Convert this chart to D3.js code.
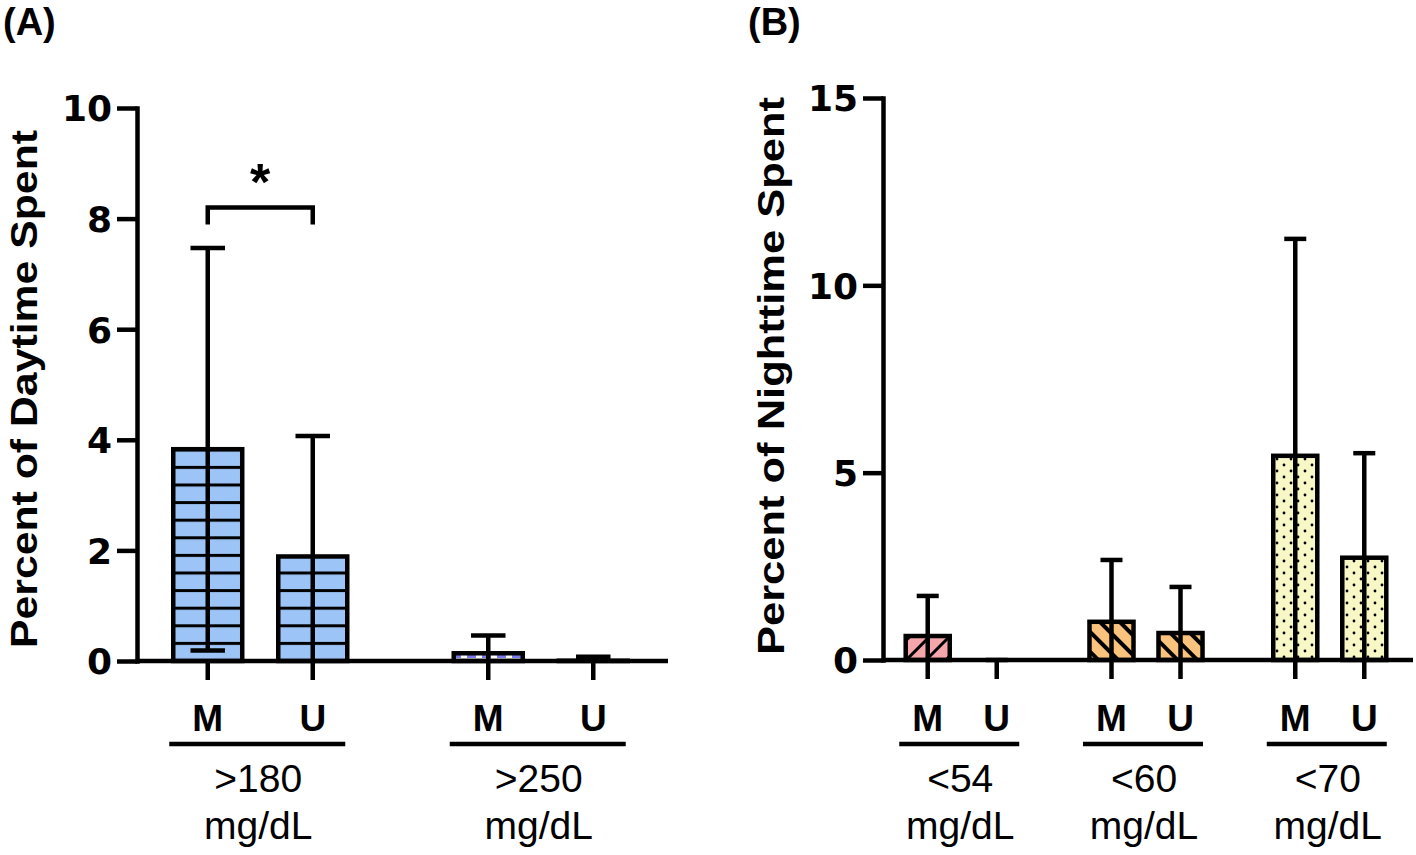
<!DOCTYPE html>
<html>
<head>
<meta charset="utf-8">
<script src="https://cdn.jsdelivr.net/npm/d3@7"></script>
<style>
  body { margin: 0; background: #fff; }
  svg { display: block; font-family: 'Liberation Sans', Arial, sans-serif; }
</style>
</head>
<body>
<div class="canvas"></div>
<script>
//? DATA
const subgroups = ['M', 'U']

const groupsA = ['>180', '>250']
const meanA_M = [3.83, 0.14]
const sdA_M = [3.64, 0.32]
const meanA_U = [1.89, 0.005]
const sdA_U = [2.18, 0.07]
const ticksA = [0, 2, 4, 6, 8, 10]

const groupsB = ['<54', '<60', '<70']
const meanB_M = [0.64, 1.02, 5.45]
const sdB_M = [1.07, 1.65, 5.79]
const meanB_U = [0, 0.72, 2.73]
const sdB_U = [0, 1.23, 2.79]
const ticksB = [0, 5, 10, 15]

const unitLabel = 'mg/dL'

const svg = d3
  .select('.canvas')
  .append('svg')
  .attr('width', 1416)
  .attr('height', 855)

const defs = svg.append('defs')

//* ========== FILL PATTERNS =============
const baseA = 661
const baseB = 660

// blue with horizontal lines
const pHoriz = defs.append('pattern')
  .attr('id', 'horiz')
  .attr('patternUnits', 'userSpaceOnUse')
  .attr('x', 0).attr('y', baseA - 17.6 - 1.5)
  .attr('width', 20).attr('height', 17.6)
pHoriz.append('rect').attr('width', 20).attr('height', 17.6).attr('fill', '#9dc4f6')
pHoriz.append('rect').attr('width', 20).attr('height', 3).attr('fill', '#000')

// purple dashes
const pDash = defs.append('pattern')
  .attr('id', 'dash')
  .attr('patternUnits', 'userSpaceOnUse')
  .attr('x', 2).attr('y', baseA - 6)
  .attr('width', 15).attr('height', 20)
pDash.append('rect').attr('width', 15).attr('height', 20).attr('fill', '#fff')
pDash.append('rect').attr('width', 9).attr('height', 3).attr('fill', '#7b7bf2')

// pink with "/" hatch
const pSlash = defs.append('pattern')
  .attr('id', 'slash')
  .attr('patternUnits', 'userSpaceOnUse')
  .attr('width', 14).attr('height', 14)
  .attr('patternTransform', 'rotate(45)')
pSlash.append('rect').attr('width', 14).attr('height', 14).attr('fill', '#f5a6aa')
pSlash.append('rect').attr('width', 3).attr('height', 14).attr('fill', '#000')

// orange with "\" hatch
const pBack = defs.append('pattern')
  .attr('id', 'back')
  .attr('patternUnits', 'userSpaceOnUse')
  .attr('width', 14).attr('height', 14)
  .attr('patternTransform', 'rotate(-45)')
pBack.append('rect').attr('width', 14).attr('height', 14).attr('fill', '#f9c37e')
pBack.append('rect').attr('width', 4).attr('height', 14).attr('fill', '#000')

// pale yellow with dots
const pDots = defs.append('pattern')
  .attr('id', 'dots')
  .attr('patternUnits', 'userSpaceOnUse')
  .attr('width', 14).attr('height', 12)
pDots.append('rect').attr('width', 14).attr('height', 12).attr('fill', '#f8f8c6')
pDots.append('circle').attr('cx', 3).attr('cy', 3).attr('r', 1.4).attr('fill', '#000')
pDots.append('circle').attr('cx', 10).attr('cy', 9).attr('r', 1.4).attr('fill', '#000')

//* ========== PANEL DRAWING =============
const font = "'Liberation Sans', Arial, sans-serif"
const wideFont = "'DejaVu Sans', Verdana, sans-serif"

const drawPanel = cfg => {
  const g = svg.append('g')

  const y = d3.scaleLinear().domain(cfg.yDomain).range([cfg.base, cfg.top])

  const x = d3.scaleBand()
    .domain(cfg.groups)
    .range(cfg.xRange)
    .paddingInner(cfg.pi)
    .paddingOuter(cfg.po)

  const xSub = d3.scaleBand()
    .domain(subgroups)
    .range([0, x.bandwidth()])
    .paddingInner(cfg.spi)
    .paddingOuter(cfg.spo)

  const rows = []
  cfg.groups.forEach((grp, i) => {
    rows.push({ grp, sub: 'M', mean: cfg.meanM[i], sd: cfg.sdM[i], fill: cfg.fills[i] })
    rows.push({ grp, sub: 'U', mean: cfg.meanU[i], sd: cfg.sdU[i], fill: cfg.fills[i] })
  })
  const cx = d => x(d.grp) + xSub(d.sub) + xSub.bandwidth() / 2
  const bw = xSub.bandwidth()
  const capW = bw / 2

  //? bars
  g.selectAll('rect.bar')
    .data(rows.filter(d => d.mean > 0))
    .join('rect')
    .attr('class', 'bar')
    .attr('x', d => cx(d) - bw / 2)
    .attr('y', d => y(d.mean))
    .attr('width', bw)
    .attr('height', d => y(0) - y(d.mean))
    .attr('fill', d => `url(#${d.fill})`)
    .attr('stroke', '#000')
    .attr('stroke-width', 4.5)

  //? error bars (line from clipped lower to upper, caps)
  const err = g.selectAll('g.err')
    .data(rows)
    .join('g')
    .attr('class', 'err')
  err.append('line')
    .attr('x1', cx).attr('x2', cx)
    .attr('y1', d => y(Math.max(0, d.mean - d.sd)))
    .attr('y2', d => y(d.mean + d.sd))
    .attr('stroke', '#000')
    .attr('stroke-width', 4.5)
  err.append('line')
    .attr('x1', d => cx(d) - capW / 2).attr('x2', d => cx(d) + capW / 2)
    .attr('y1', d => y(d.mean + d.sd)).attr('y2', d => y(d.mean + d.sd))
    .attr('stroke', '#000')
    .attr('stroke-width', 4.5)
  err.filter(d => d.mean - d.sd > 0)
    .append('line')
    .attr('x1', d => cx(d) - capW / 2).attr('x2', d => cx(d) + capW / 2)
    .attr('y1', d => y(d.mean - d.sd)).attr('y2', d => y(d.mean - d.sd))
    .attr('stroke', '#000')
    .attr('stroke-width', 4.5)

  //? y axis
  const yAxis = d3.axisLeft(y)
    .tickValues(cfg.ticks)
    .tickSize(20)
    .tickSizeOuter(0)
    .tickPadding(5)
  const ya = g.append('g')
    .attr('transform', `translate(${cfg.axisX}, 0)`)
    .call(yAxis)
  ya.select('.domain').attr('stroke-width', 4.5).attr('stroke-linecap', 'square')
  ya.selectAll('.tick line').attr('stroke-width', 4.5)
  ya.selectAll('.tick text')
    .attr('font-family', wideFont)
    .attr('font-size', 36)
    .attr('font-weight', 'bold')
    .attr('fill', '#000')
    .attr('dy', '0.36em')

  //? x axis baseline and ticks
  g.append('line')
    .attr('x1', cfg.axisX).attr('x2', cfg.axisEnd)
    .attr('y1', y(0)).attr('y2', y(0))
    .attr('stroke', '#000')
    .attr('stroke-width', 4.5)
  g.selectAll('line.xtick')
    .data(rows)
    .join('line')
    .attr('class', 'xtick')
    .attr('x1', cx).attr('x2', cx)
    .attr('y1', y(0)).attr('y2', y(0) + 19)
    .attr('stroke', '#000')
    .attr('stroke-width', 4.5)

  g.selectAll('text.sub')
    .data(rows)
    .join('text')
    .attr('class', 'sub')
    .attr('x', cx)
    .attr('y', 731)
    .attr('text-anchor', 'middle')
    .attr('font-family', font)
    .attr('font-size', 37)
    .attr('font-weight', 'bold')
    .text(d => d.sub)

  //? group underline and labels
  const gc = grp => x(grp) + x.bandwidth() / 2
  g.selectAll('line.under')
    .data(cfg.groups)
    .join('line')
    .attr('class', 'under')
    .attr('x1', d => gc(d) - 3 - cfg.underHalf)
    .attr('x2', d => gc(d) - 3 + cfg.underHalf)
    .attr('y1', 744).attr('y2', 744)
    .attr('stroke', '#000')
    .attr('stroke-width', 4.5)

  const gl = g.selectAll('text.grp')
    .data(cfg.groups)
    .join('text')
    .attr('class', 'grp')
    .attr('text-anchor', 'middle')
    .attr('font-family', font)
    .attr('font-size', 39)
  gl.append('tspan').attr('x', d => gc(d) - 2).attr('y', 792).text(d => d)
  gl.append('tspan').attr('x', d => gc(d) - 2).attr('y', 839).text(unitLabel)

  //? y label
  g.append('text')
    .attr('transform', `translate(${cfg.labelX}, ${cfg.labelY}) rotate(-90)`)
    .attr('text-anchor', 'middle')
    .attr('font-family', font)
    .attr('font-size', 37)
    .attr('font-weight', 'bold')
    .attr('textLength', cfg.labelLen)
    .attr('lengthAdjust', 'spacingAndGlyphs')
    .text(cfg.yLabel)

  //? panel letter
  g.append('text')
    .attr('x', cfg.letterX)
    .attr('y', 35)
    .attr('font-family', font)
    .attr('font-size', 38)
    .attr('font-weight', 'bold')
    .text(cfg.letter)

  return { g, x, xSub, y, cx, rows }
}

const panelA = drawPanel({
  groups: groupsA, meanM: meanA_M, sdM: sdA_M, meanU: meanA_U, sdU: sdA_U,
  fills: ['horiz', 'dash'], ticks: ticksA, yDomain: [0, 10],
  base: baseA, top: 108, axisX: 137, axisEnd: 668,
  xRange: [135, 666], pi: 0.2, po: 0.0465, spi: 0.343, spo: 0.24,
  underHalf: 88, labelX: 37, labelY: 389, labelLen: 518,
  yLabel: 'Percent of Daytime Spent', letter: '(A)', letterX: 3
})

drawPanel({
  groups: groupsB, meanM: meanB_M, sdM: sdB_M, meanU: meanB_U, sdU: sdB_U,
  fills: ['slash', 'back', 'dots'], ticks: ticksB, yDomain: [0, 15],
  base: baseB, top: 98, axisX: 883, axisEnd: 1413,
  xRange: [881, 1411], pi: 0.3, po: 0.092, spi: 0.362, spo: 0.113,
  underHalf: 60, labelX: 784, labelY: 376, labelLen: 558,
  yLabel: 'Percent of Nighttime Spent', letter: '(B)', letterX: 748
})

//* SIGNIFICANCE BRACKET (>180, M vs U)
const sigY = panelA.y(8.2)
const mRow = panelA.rows[0]
const uRow = panelA.rows[1]
panelA.g.append('path')
  .attr('d', `M${panelA.cx(mRow)},${sigY + 17}V${sigY}H${panelA.cx(uRow)}V${sigY + 17}`)
  .attr('fill', 'none')
  .attr('stroke', '#000')
  .attr('stroke-width', 4.5)
panelA.g.append('text')
  .attr('x', (panelA.cx(mRow) + panelA.cx(uRow)) / 2)
  .attr('y', sigY - 8)
  .attr('text-anchor', 'middle')
  .attr('font-family', font)
  .attr('font-size', 52)
  .attr('font-weight', 'bold')
  .text('*')
</script>
</body>
</html>
